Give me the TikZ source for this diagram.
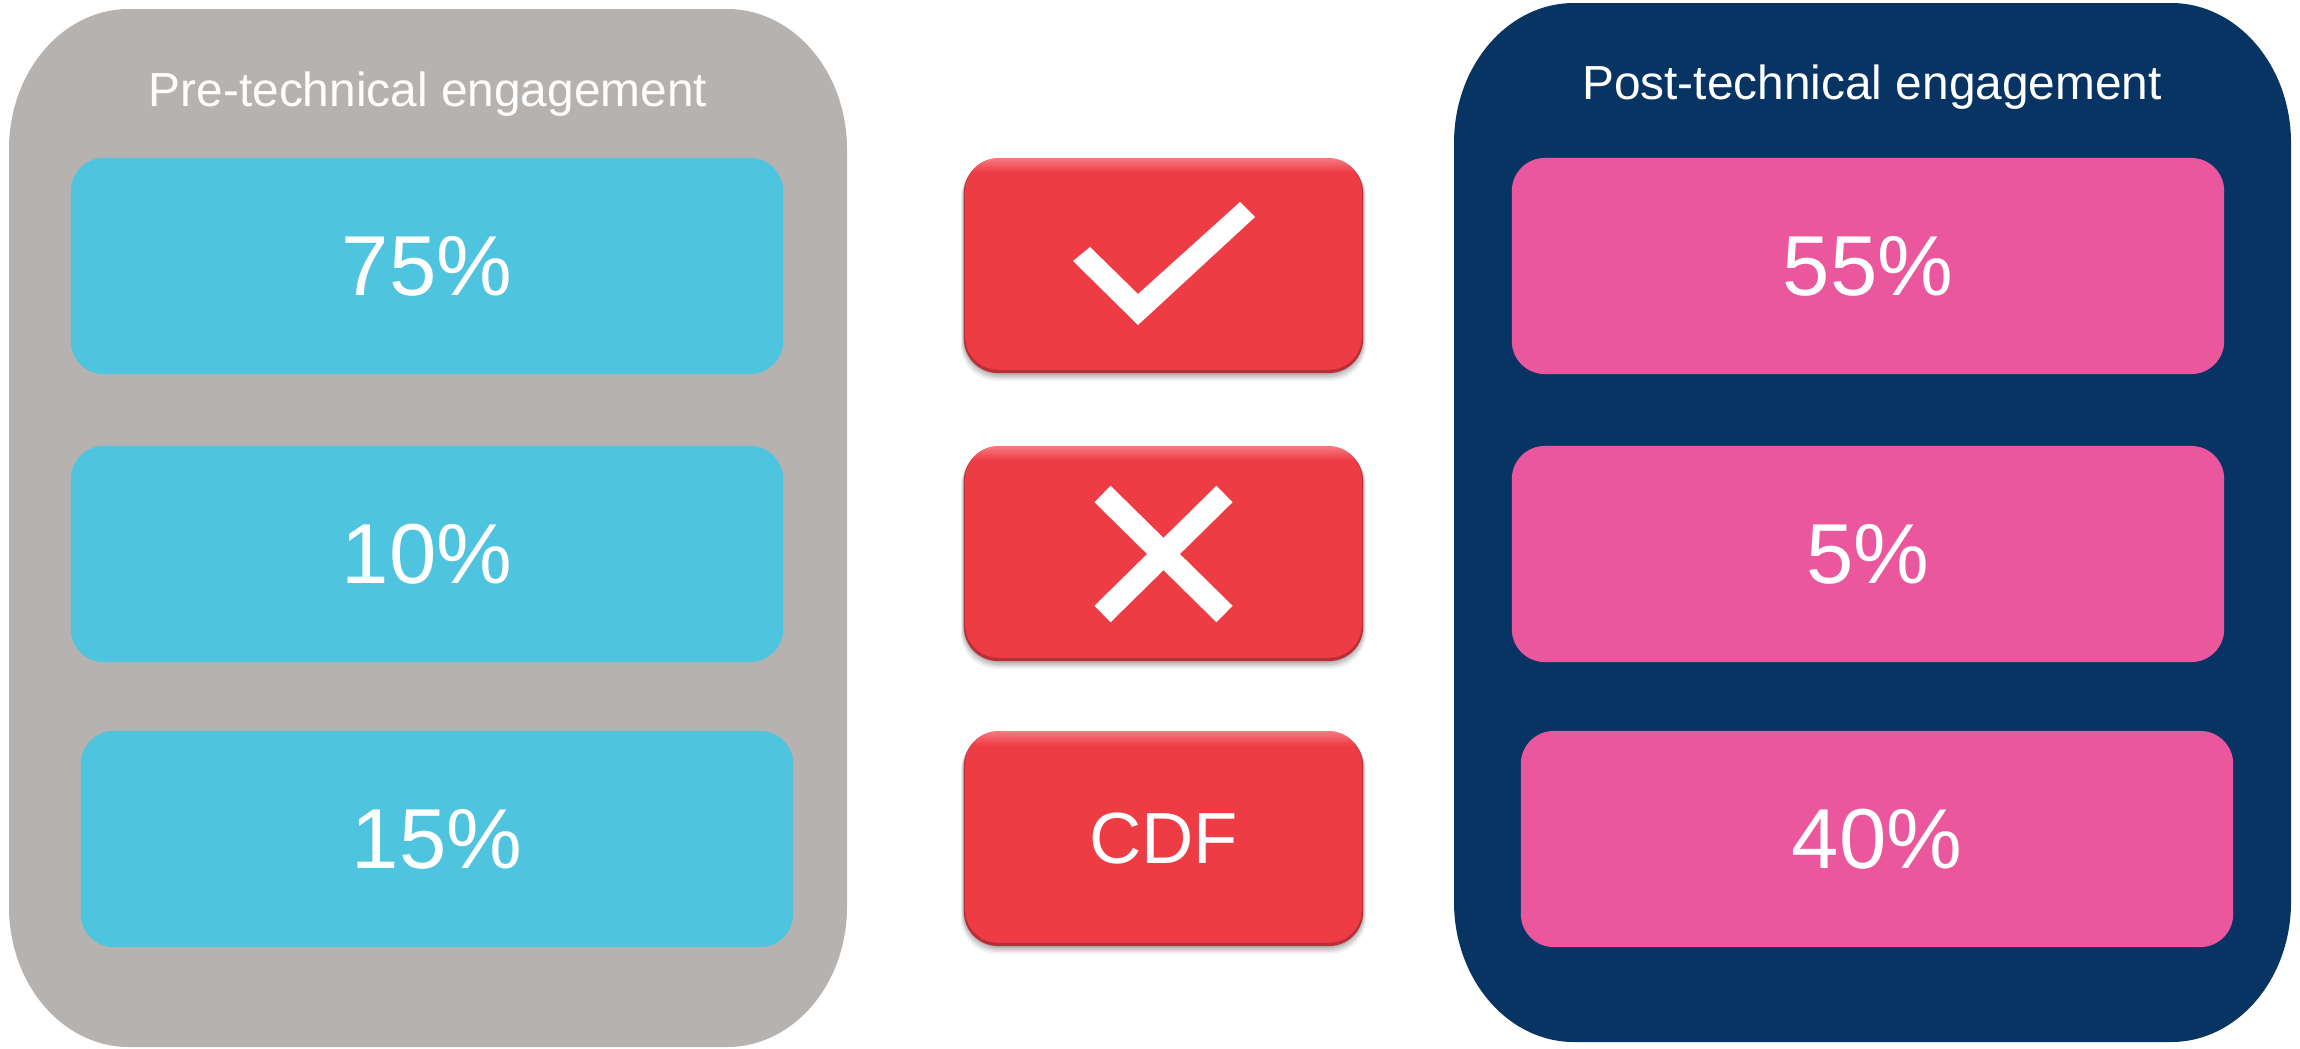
\documentclass[tikz,border=0pt]{standalone}
\usepackage{fontspec}
\setmainfont{Liberation Sans}
\usetikzlibrary{calc}
\definecolor{panelgray}{HTML}{B6B2AF}
\definecolor{panelnavy}{HTML}{083464}
\definecolor{boxcyan}{HTML}{4FC4DE}
\definecolor{boxpink}{HTML}{EB579D}
\definecolor{btnred}{HTML}{EE3C45}
\definecolor{btnrim}{HTML}{B92D35}
\definecolor{btnhl}{HTML}{F7787E}
\tikzset{
  valbox/.style={minimum width=7.12cm, minimum height=2.16cm, inner sep=0pt,
    rounded corners=0.33cm, text=white, font=\fontsize{24.2}{28}\selectfont},
  cyanbox/.style={valbox, fill=boxcyan},
  pinkbox/.style={valbox, fill=boxpink},
  redbtn/.style={minimum width=3.99cm, minimum height=2.14cm, inner sep=0pt,
    rounded corners=0.34cm, fill=btnrim, text=white,
    font=\fontsize{21.6}{25}\selectfont},
  paneltitle/.style={anchor=base, text=white, inner sep=0pt,
    font=\fontsize{13.6}{16}\selectfont},
  markstroke/.style={white, line width=0.23cm, line cap=butt},
}
\newcommand{\btndecor}[1]{%
  \fill[btnred, rounded corners=0.33cm]
    ($(#1.north west)+(2,0)$) rectangle ($(#1.south east)+(-2,-4)$);
  \begin{scope}
    \clip[rounded corners=0.33cm]
      ($(#1.north west)+(2,0)$) rectangle ($(#1.south east)+(-2,-4)$);
    \shade[top color=btnhl, bottom color=btnred]
      (#1.north west) rectangle ($(#1.north east)+(0,14)$);
  \end{scope}}
\newcommand{\btnshadow}[2]{%
  \foreach \d/\o in {8/0.05,6/0.07,4/0.09,2/0.1}{
    \fill[black, opacity=\o, rounded corners=0.36cm]
      ($(#1,#2)+(-199.5-\d*0.4,-107+\d*0.3)$) rectangle ($(#1,#2)+(199.5+\d*0.4,107+\d)$);}}
\begin{document}
\begin{tikzpicture}[x=0.01cm,y=-0.01cm]
\useasboundingbox (0,0) rectangle (2300,1048);
\fill[white] (0,0) rectangle (2300,1048);

% left panel
\fill[panelgray] (129,9) -- (727,9) .. controls (793.3,9) and (847,71.7) .. (847,149)
  -- (847,907) .. controls (847,984.3) and (793.3,1047) .. (727,1047)
  -- (129,1047) .. controls (62.7,1047) and (9,984.3) .. (9,907)
  -- (9,149) .. controls (9,71.7) and (62.7,9) .. cycle;
% right panel
\fill[panelnavy] (1574,3) -- (2171,3) .. controls (2237.3,3) and (2291,65.7) .. (2291,143)
  -- (2291,902) .. controls (2291,979.3) and (2237.3,1042) .. (2171,1042)
  -- (1574,1042) .. controls (1507.7,1042) and (1454,979.3) .. (1454,902)
  -- (1454,143) .. controls (1454,65.7) and (1507.7,3) .. cycle;

\node[paneltitle] (pretitle) at (428,106) {Pre-technical engagement};
\node[paneltitle] (posttitle) at (1872,99) {Post-technical engagement};

\node[cyanbox] (pre1) at (427,266) {75\%};
\node[cyanbox] (pre2) at (427,554) {10\%};
\node[cyanbox] (pre3) at (437,839) {15\%};

\node[pinkbox] (post1) at (1868,266) {55\%};
\node[pinkbox] (post2) at (1868,554) {5\%};
\node[pinkbox] (post3) at (1877,839) {40\%};

% red buttons
\btnshadow{1163.5}{266}
\btnshadow{1163.5}{554}
\btnshadow{1163.5}{839}
\node[redbtn] (ok) at (1163.5,266) {};
\btndecor{ok}
\node[redbtn] (no) at (1163.5,554) {};
\btndecor{no}
\node[redbtn] (cdfbtn) at (1163.5,839) {};
\btndecor{cdfbtn}
\node[text=white, inner sep=0pt, font=\fontsize{20.6}{24}\selectfont] (cdf) at (cdfbtn.center) {CDF};

% check mark
\fill[white] ($(ok.center)+(-90.5,-5)$) -- ($(ok.center)+(-73.5,-19)$)
  -- ($(ok.center)+(-25.5,28)$) -- ($(ok.center)+(76.5,-64)$)
  -- ($(ok.center)+(91.5,-49)$) -- ($(ok.center)+(-25.5,59)$) -- cycle;
% cross mark
\draw[markstroke] ($(no.center)+(-61,-60)$) -- ($(no.center)+(61,60)$);
\draw[markstroke] ($(no.center)+(61,-60)$) -- ($(no.center)+(-61,60)$);
\end{tikzpicture}
\end{document}
